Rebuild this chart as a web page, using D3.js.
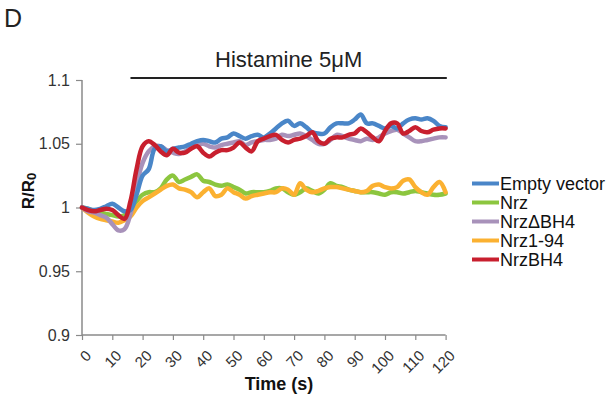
<!DOCTYPE html>
<html><head><meta charset="utf-8">
<script src="https://cdn.jsdelivr.net/npm/d3@7"></script>
<style>body{margin:0;background:#fff}svg{display:block}text{font-family:"Liberation Sans",Arial,sans-serif}</style>
</head><body><svg id="c" width="612" height="403"></svg>
<script>
const times = d3.range(0, 121, 2);
const seriesNames = ["Empty vector","Nrz","Nrz\u0394BH4","Nrz1-94","NrzBH4"];
const seriesColors = ["#4a86c8","#8cc63f","#a892ba","#fbb131","#c81f2e"];
const emptyVector = [1.000,0.999,0.998,0.999,1.001,1.003,1.000,0.997,0.998,1.010,1.025,1.030,1.046,1.048,1.044,1.046,1.047,1.048,1.050,1.052,1.053,1.052,1.051,1.054,1.055,1.058,1.056,1.054,1.056,1.057,1.055,1.058,1.062,1.066,1.068,1.064,1.066,1.063,1.059,1.058,1.058,1.063,1.066,1.066,1.066,1.069,1.073,1.066,1.066,1.064,1.062,1.064,1.062,1.066,1.069,1.070,1.069,1.070,1.068,1.064,1.063];
const nrz = [1.000,0.999,0.997,0.996,0.995,0.994,0.993,0.994,0.998,1.005,1.010,1.012,1.012,1.015,1.022,1.025,1.020,1.022,1.024,1.026,1.021,1.020,1.018,1.017,1.018,1.016,1.014,1.011,1.012,1.012,1.012,1.013,1.015,1.015,1.012,1.010,1.012,1.015,1.013,1.011,1.014,1.019,1.017,1.016,1.014,1.013,1.012,1.012,1.012,1.011,1.010,1.012,1.012,1.011,1.012,1.013,1.012,1.011,1.010,1.010,1.011];
const nrzDeltaBH4 = [1.000,0.997,0.996,0.994,0.992,0.987,0.982,0.983,0.995,1.018,1.035,1.044,1.048,1.048,1.045,1.043,1.042,1.044,1.047,1.049,1.050,1.048,1.047,1.049,1.050,1.051,1.052,1.049,1.051,1.052,1.053,1.053,1.054,1.057,1.056,1.057,1.058,1.056,1.053,1.050,1.050,1.053,1.057,1.056,1.054,1.053,1.052,1.054,1.053,1.055,1.058,1.060,1.061,1.058,1.055,1.052,1.052,1.053,1.054,1.055,1.055];
const nrz1to94 = [1.000,0.996,0.993,0.991,0.990,0.989,0.988,0.990,0.993,1.000,1.005,1.008,1.011,1.014,1.017,1.018,1.015,1.014,1.012,1.008,1.012,1.015,1.009,1.010,1.015,1.012,1.010,1.007,1.009,1.010,1.011,1.012,1.012,1.015,1.014,1.010,1.019,1.014,1.012,1.013,1.015,1.016,1.016,1.015,1.014,1.013,1.012,1.013,1.017,1.018,1.016,1.015,1.016,1.021,1.022,1.016,1.012,1.010,1.016,1.020,1.012];
const nrzBH4 = [1.000,0.998,0.997,0.998,0.999,0.998,0.994,0.991,1.005,1.030,1.048,1.052,1.049,1.044,1.041,1.046,1.043,1.043,1.046,1.048,1.043,1.040,1.043,1.045,1.045,1.047,1.051,1.047,1.044,1.052,1.054,1.056,1.057,1.053,1.051,1.053,1.054,1.056,1.059,1.052,1.050,1.054,1.055,1.055,1.057,1.058,1.062,1.059,1.055,1.052,1.060,1.066,1.066,1.058,1.060,1.063,1.060,1.059,1.061,1.062,1.062];
const xTicks = d3.range(0, 121, 10);
const yTicks = [0.9, 0.95, 1, 1.05, 1.1];
const yTickLabels = ["0.9","0.95","1","1.05","1.1"];
const stimulus = [16, 120.4];
const stimulusLabel = "Histamine 5\u03bcM";
const panelLabel = "D";

const allSeries = [emptyVector, nrz, nrzDeltaBH4, nrz1to94, nrzBH4];
const drawOrder = [1, 3, 2, 0, 4];

const svg = d3.select("#c");
const x = d3.scaleLinear().domain([0, 120]).range([82, 445.6]);
const y = d3.scaleLinear().domain([0.9, 1.1]).range([335, 80]);
const axisColor = "#8a8a8a";

const yAxis = svg.append("g").attr("transform", "translate(82,0)")
  .call(d3.axisLeft(y).tickValues(yTicks).tickFormat((d,i)=>yTickLabels[i]).tickSize(6).tickPadding(6));
const xAxis = svg.append("g").attr("transform", "translate(0,335)")
  .call(d3.axisBottom(x).tickValues(xTicks).tickSize(5).tickFormat(d=>d));
[yAxis, xAxis].forEach(g => {
  g.select(".domain").attr("stroke", axisColor).attr("stroke-width", 1.5);
  g.selectAll(".tick line").attr("stroke", axisColor).attr("stroke-width", 1.2);
});
yAxis.selectAll(".tick text").attr("font-size", 16).attr("fill", "#333").style("font-family", "Liberation Sans, Arial, sans-serif");
xAxis.selectAll(".tick text")
  .attr("font-size", 15).attr("fill", "#333").style("font-family", "Liberation Sans, Arial, sans-serif")
  .attr("text-anchor", "end").attr("x", 0).attr("y", 0).attr("dy", "0.35em")
  .attr("transform", "translate(6,18) rotate(-45)");
xAxis.select(".domain").attr("d", `M${x(0)},0H${x(120)}`);
yAxis.select(".domain").attr("d", `M0,${y(1.1)}V${y(0.9)}`);

const line = d3.line().x((d,i)=>x(times[i])).y(d=>y(d)).curve(d3.curveCatmullRom.alpha(0.5));
drawOrder.forEach(k => {
  svg.append("path").datum(allSeries[k]).attr("d", line)
    .attr("fill", "none").attr("stroke", seriesColors[k]).attr("stroke-width", 4.5)
    .attr("stroke-linejoin", "round").attr("stroke-linecap", "round");
});

svg.append("line").attr("x1", x(stimulus[0])).attr("x2", x(stimulus[1]))
  .attr("y1", 78).attr("y2", 78).attr("stroke", "#222").attr("stroke-width", 2);
svg.append("text").attr("x", (x(stimulus[0])+x(stimulus[1]))/2).attr("y", 67)
  .attr("text-anchor", "middle").attr("font-size", 22).attr("fill", "#222").text(stimulusLabel);

svg.append("text").attr("x", 4).attr("y", 27).attr("font-size", 25).attr("fill", "#222").text(panelLabel);

svg.append("text").attr("x", 279).attr("y", 390).attr("text-anchor", "middle")
  .attr("font-size", 18).attr("font-weight", "bold").attr("fill", "#111").text("Time (s)");
const yl = svg.append("text").attr("transform", "translate(34,191) rotate(-90)")
  .attr("text-anchor", "middle").attr("font-size", 17).attr("font-weight", "bold").attr("fill", "#111");
yl.append("tspan").text("R/R");
yl.append("tspan").attr("font-size", 13).attr("dy", 2).text("0");

const leg = svg.append("g");
seriesNames.forEach((n, i) => {
  const yy = 183.5 + i*19;
  leg.append("line").attr("x1", 472).attr("x2", 499).attr("y1", yy).attr("y2", yy)
    .attr("stroke", seriesColors[i]).attr("stroke-width", 4);
  leg.append("text").attr("x", 500).attr("y", yy).attr("dy", "0.36em")
    .attr("font-size", 18).attr("fill", "#111").text(n);
});
</script></body></html>
